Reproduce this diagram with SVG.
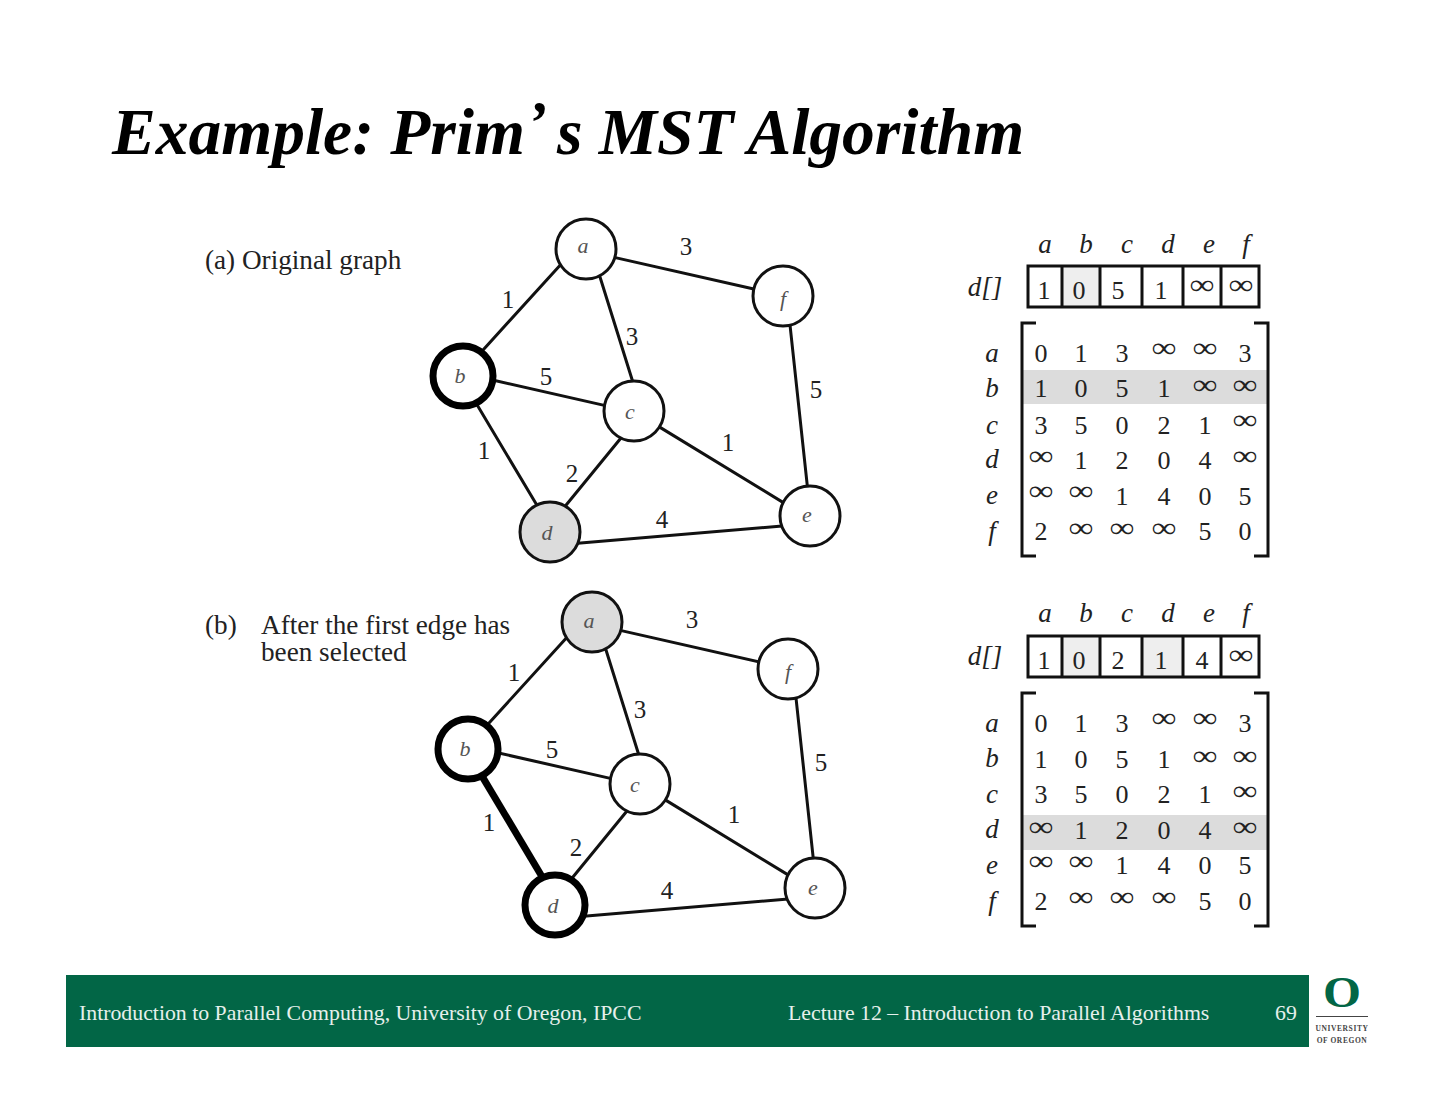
<svg xmlns="http://www.w3.org/2000/svg" width="1440" height="1113" viewBox="0 0 1440 1113">
<style>
text{font-family:"Liberation Serif","Times New Roman",serif;fill:#222}
.title{font-size:65.500px;font-weight:bold;font-style:italic;fill:#000}
.cap{font-size:27.200px}
.w{font-size:25px;text-anchor:middle}
.n{font-size:26px;text-anchor:middle}
.i{font-size:28px;text-anchor:middle}
.it{font-size:27px;font-style:italic;text-anchor:middle}
.nl{font-size:22px;font-style:italic;text-anchor:middle;fill:#555}
.e{stroke:#111;stroke-width:3;fill:none}
.h{stroke:#000;stroke-width:7;fill:none}
.c{fill:#fff;stroke:#111;stroke-width:3}
.cg{fill:#dcdcdc;stroke:#111;stroke-width:3}
.ct{fill:#fff;stroke:#000;stroke-width:7}
.box{fill:none;stroke:#111;stroke-width:3}
.g{fill:#dcdcdc}
.g2{fill:#eee}
.ft{font-size:21.800px;fill:#e6f0ec}
.lg{font-size:7.500px;font-weight:bold;text-anchor:middle;letter-spacing:.6px;fill:#444}
</style>
<rect width="1440" height="1113" fill="#fff"/>
<text class="title" x="112" y="154">Example: Prim</text>
<text class="title" x="527" y="142" style="font-size:60px">’</text>
<text class="title" x="557" y="154">s MST Algorithm</text>

<g id="connectors-a">
<path class="e" d="M609.800 256.400L758.200 290M561 264.300L481.700 351.400M598.200 271.300L634.100 386M789.400 319.300L807.900 491.300M488.200 379L609.800 406.600M474.200 400.100L537.100 505.500M622.800 435.700L563.500 508.300M657.200 425.600L787.400 505.100M574.700 543.500L785 525.800"/>
<text class="w" x="686" y="255">3</text><text class="w" x="508" y="308">1</text><text class="w" x="632" y="345">3</text><text class="w" x="546" y="385">5</text><text class="w" x="484" y="459">1</text><text class="w" x="572" y="482">2</text><text class="w" x="728" y="451">1</text><text class="w" x="662" y="528">4</text><text class="w" x="816" y="398">5</text>
</g>
<g id="a-a"><circle class="c" cx="586" cy="249" r="30"/><text class="nl" x="583" y="253">a</text></g>
<g id="a-f"><circle class="c" cx="783" cy="296" r="30"/><text class="nl" x="783" y="306">f</text></g>
<g id="a-b"><circle class="ct" cx="463" cy="376" r="30"/><text class="nl" x="460" y="383">b</text></g>
<g id="a-c"><circle class="c" cx="634" cy="411" r="30"/><text class="nl" x="630" y="419">c</text></g>
<g id="a-d"><circle class="cg" cx="550" cy="532" r="30"/><text class="nl" x="547" y="540">d</text></g>
<g id="a-e"><circle class="c" cx="810" cy="516" r="30"/><text class="nl" x="807" y="522">e</text></g>

<g id="connectors-b">
<path class="e" d="M615.800 629.400L764.200 663M567 637.300L487.700 724.400M604.200 644.300L640.100 759M795.400 692.300L813.900 864.300M494.200 752L615.800 779.600M628.800 808.700L569.500 881.300M663.200 798.600L793.400 878.100M580.700 916.500L791 898.800"/>
<path class="h" d="M480.200 773.100L543.100 878.500"/>
<text class="w" x="692" y="628">3</text><text class="w" x="514" y="681">1</text><text class="w" x="640" y="718">3</text><text class="w" x="552" y="758">5</text><text class="w" x="489" y="831">1</text><text class="w" x="576" y="856">2</text><text class="w" x="734" y="823">1</text><text class="w" x="667" y="899">4</text><text class="w" x="821" y="771">5</text>
</g>
<g id="b-a"><circle class="cg" cx="592" cy="622" r="30"/><text class="nl" x="589" y="628">a</text></g>
<g id="b-f"><circle class="c" cx="788" cy="669" r="30"/><text class="nl" x="788" y="679">f</text></g>
<g id="b-b"><circle class="ct" cx="468" cy="749" r="30"/><text class="nl" x="465" y="756">b</text></g>
<g id="b-c"><circle class="c" cx="640" cy="784" r="30"/><text class="nl" x="635" y="792">c</text></g>
<g id="b-d"><circle class="ct" cx="555" cy="905" r="30"/><text class="nl" x="553" y="913">d</text></g>
<g id="b-e"><circle class="c" cx="815" cy="888" r="30"/><text class="nl" x="813" y="895">e</text></g>

<text class="cap" x="205" y="269">(a) Original graph</text>
<text class="cap" x="205" y="634">(b)</text>
<text class="cap" x="261" y="634">After the first edge has</text>
<text class="cap" x="261" y="661">been selected</text>

<g id="table-a">
<text class="it" x="1045" y="253">a</text><text class="it" x="1086" y="253">b</text><text class="it" x="1127" y="253">c</text><text class="it" x="1168" y="253">d</text><text class="it" x="1209" y="253">e</text><text class="it" x="1246" y="253">f</text>
<text class="it" x="985" y="296">d[]</text>
<rect class="g2" x="1063" y="267" width="37" height="39"/>
<path class="box" d="M1028 266H1259V307H1028ZM1062 266V307M1100 266V307M1142 266V307M1183 266V307M1221 266V307"/>
<text class="n" x="1044" y="299">1</text><text class="n" x="1079" y="299">0</text><text class="n" x="1118" y="299">5</text><text class="n" x="1161" y="299">1</text><text class="i" textLength="25" lengthAdjust="spacingAndGlyphs" x="1202" y="294">∞</text><text class="i" textLength="25" lengthAdjust="spacingAndGlyphs" x="1241" y="294">∞</text>
<rect class="g" x="1023" y="370" width="244" height="34"/>
<path class="box" d="M1036 323H1022V556H1036M1254 323H1268V556H1254"/>
<text class="it" x="992" y="362">a</text><text class="it" x="992" y="397">b</text><text class="it" x="992" y="434">c</text><text class="it" x="992" y="468">d</text><text class="it" x="992" y="504">e</text><text class="it" x="992" y="540">f</text>
<text class="n" x="1041" y="362">0</text><text class="n" x="1081" y="362">1</text><text class="n" x="1122" y="362">3</text><text class="i" textLength="25" lengthAdjust="spacingAndGlyphs" x="1164" y="357">∞</text><text class="i" textLength="25" lengthAdjust="spacingAndGlyphs" x="1205" y="357">∞</text><text class="n" x="1245" y="362">3</text>
<text class="n" x="1041" y="397">1</text><text class="n" x="1081" y="397">0</text><text class="n" x="1122" y="397">5</text><text class="n" x="1164" y="397">1</text><text class="i" textLength="25" lengthAdjust="spacingAndGlyphs" x="1205" y="394">∞</text><text class="i" textLength="25" lengthAdjust="spacingAndGlyphs" x="1245" y="394">∞</text>
<text class="n" x="1041" y="434">3</text><text class="n" x="1081" y="434">5</text><text class="n" x="1122" y="434">0</text><text class="n" x="1164" y="434">2</text><text class="n" x="1205" y="434">1</text><text class="i" textLength="25" lengthAdjust="spacingAndGlyphs" x="1245" y="429">∞</text>
<text class="i" textLength="25" lengthAdjust="spacingAndGlyphs" x="1041" y="465">∞</text><text class="n" x="1081" y="469">1</text><text class="n" x="1122" y="469">2</text><text class="n" x="1164" y="469">0</text><text class="n" x="1205" y="469">4</text><text class="i" textLength="25" lengthAdjust="spacingAndGlyphs" x="1245" y="465">∞</text>
<text class="i" textLength="25" lengthAdjust="spacingAndGlyphs" x="1041" y="500">∞</text><text class="i" textLength="25" lengthAdjust="spacingAndGlyphs" x="1081" y="500">∞</text><text class="n" x="1122" y="505">1</text><text class="n" x="1164" y="505">4</text><text class="n" x="1205" y="505">0</text><text class="n" x="1245" y="505">5</text>
<text class="n" x="1041" y="540">2</text><text class="i" textLength="25" lengthAdjust="spacingAndGlyphs" x="1081" y="537">∞</text><text class="i" textLength="25" lengthAdjust="spacingAndGlyphs" x="1122" y="537">∞</text><text class="i" textLength="25" lengthAdjust="spacingAndGlyphs" x="1164" y="537">∞</text><text class="n" x="1205" y="540">5</text><text class="n" x="1245" y="540">0</text>
</g>

<g id="table-b">
<text class="it" x="1045" y="622">a</text><text class="it" x="1086" y="622">b</text><text class="it" x="1127" y="622">c</text><text class="it" x="1168" y="622">d</text><text class="it" x="1209" y="622">e</text><text class="it" x="1246" y="622">f</text>
<text class="it" x="985" y="665">d[]</text>
<rect class="g2" x="1063" y="637" width="37" height="39"/><rect class="g2" x="1143" y="637" width="39" height="39"/>
<path class="box" d="M1028 636H1259V677H1028ZM1062 636V677M1100 636V677M1142 636V677M1183 636V677M1221 636V677"/>
<text class="n" x="1044" y="669">1</text><text class="n" x="1079" y="669">0</text><text class="n" x="1118" y="669">2</text><text class="n" x="1161" y="669">1</text><text class="n" x="1202" y="669">4</text><text class="i" textLength="25" lengthAdjust="spacingAndGlyphs" x="1241" y="664">∞</text>
<rect class="g" x="1023" y="815" width="244" height="35"/>
<path class="box" d="M1036 693H1022V926H1036M1254 693H1268V926H1254"/>
<text class="it" x="992" y="732">a</text><text class="it" x="992" y="767">b</text><text class="it" x="992" y="803">c</text><text class="it" x="992" y="838">d</text><text class="it" x="992" y="874">e</text><text class="it" x="992" y="910">f</text>
<text class="n" x="1041" y="732">0</text><text class="n" x="1081" y="732">1</text><text class="n" x="1122" y="732">3</text><text class="i" textLength="25" lengthAdjust="spacingAndGlyphs" x="1164" y="727">∞</text><text class="i" textLength="25" lengthAdjust="spacingAndGlyphs" x="1205" y="727">∞</text><text class="n" x="1245" y="732">3</text>
<text class="n" x="1041" y="768">1</text><text class="n" x="1081" y="768">0</text><text class="n" x="1122" y="768">5</text><text class="n" x="1164" y="768">1</text><text class="i" textLength="25" lengthAdjust="spacingAndGlyphs" x="1205" y="765">∞</text><text class="i" textLength="25" lengthAdjust="spacingAndGlyphs" x="1245" y="765">∞</text>
<text class="n" x="1041" y="803">3</text><text class="n" x="1081" y="803">5</text><text class="n" x="1122" y="803">0</text><text class="n" x="1164" y="803">2</text><text class="n" x="1205" y="803">1</text><text class="i" textLength="25" lengthAdjust="spacingAndGlyphs" x="1245" y="800">∞</text>
<text class="i" textLength="25" lengthAdjust="spacingAndGlyphs" x="1041" y="836">∞</text><text class="n" x="1081" y="839">1</text><text class="n" x="1122" y="839">2</text><text class="n" x="1164" y="839">0</text><text class="n" x="1205" y="839">4</text><text class="i" textLength="25" lengthAdjust="spacingAndGlyphs" x="1245" y="836">∞</text>
<text class="i" textLength="25" lengthAdjust="spacingAndGlyphs" x="1041" y="870">∞</text><text class="i" textLength="25" lengthAdjust="spacingAndGlyphs" x="1081" y="870">∞</text><text class="n" x="1122" y="874">1</text><text class="n" x="1164" y="874">4</text><text class="n" x="1205" y="874">0</text><text class="n" x="1245" y="874">5</text>
<text class="n" x="1041" y="910">2</text><text class="i" textLength="25" lengthAdjust="spacingAndGlyphs" x="1081" y="906">∞</text><text class="i" textLength="25" lengthAdjust="spacingAndGlyphs" x="1122" y="906">∞</text><text class="i" textLength="25" lengthAdjust="spacingAndGlyphs" x="1164" y="906">∞</text><text class="n" x="1205" y="910">5</text><text class="n" x="1245" y="910">0</text>
</g>

<g id="footer">
<rect x="66" y="975" width="1243" height="72" fill="#026646"/>
<text class="ft" x="79" y="1020">Introduction to Parallel Computing, University of Oregon, IPCC</text>
<text class="ft" x="788" y="1020">Lecture 12 – Introduction to Parallel Algorithms</text>
<text class="ft" x="1275" y="1020">69</text>
<text x="1323" y="1007" font-size="44" font-weight="bold" textLength="38" lengthAdjust="spacingAndGlyphs" style="fill:#026646">O</text>
<path d="M1316 1016.500H1368" stroke="#444" stroke-width="1"/>
<text class="lg" x="1342" y="1031">UNIVERSITY</text>
<text class="lg" x="1342" y="1043">OF OREGON</text>
</g>
</svg>
